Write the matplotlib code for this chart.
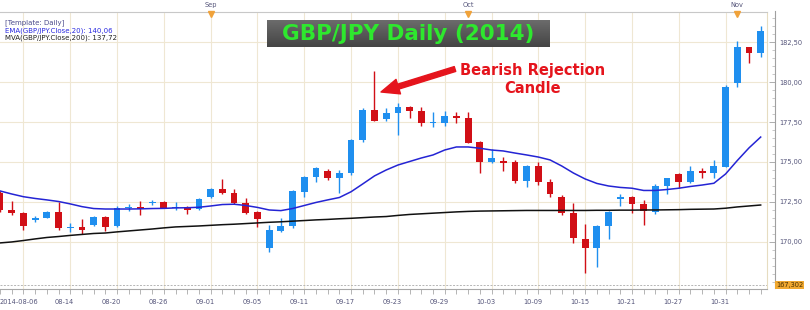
import matplotlib
matplotlib.use("Agg")
import matplotlib.pyplot as plt
import numpy as np
import pandas as pd
from matplotlib.transforms import blended_transform_factory

# trading days shown on the chart
dates = pd.bdate_range("2014-08-06", "2014-11-05")

opens = [173.06, 172.00, 171.83, 171.38, 171.52, 171.89, 170.87, 170.94, 171.06, 171.54,
         171.00, 172.14, 172.17, 172.45, 172.52, 172.15, 172.17, 172.06, 172.83, 173.29,
         173.04, 172.46, 171.88, 169.61, 170.71, 171.00, 173.14, 174.08, 174.44, 173.98,
         174.29, 176.38, 178.25, 177.69, 178.08, 178.46, 178.21, 177.45, 177.42, 177.88,
         177.73, 176.27, 175.02, 175.08, 174.98, 173.83, 174.75, 173.77, 172.83, 171.79,
         170.17, 169.64, 171.00, 172.67, 172.83, 172.36, 171.85, 173.52, 174.25, 173.77,
         174.44, 174.33, 174.71, 179.96, 182.17, 181.83]
highs = [173.20, 172.58, 171.90, 171.60, 171.94, 172.52, 171.19, 171.44, 171.60, 171.60,
         172.25, 172.36, 172.56, 172.62, 172.56, 172.49, 172.25, 172.75, 173.39, 173.92,
         173.31, 172.73, 171.94, 171.06, 171.48, 173.25, 174.15, 174.70, 174.56, 174.50,
         176.45, 178.38, 180.71, 178.35, 178.71, 178.50, 178.46, 178.14, 178.21, 178.10,
         178.10, 176.30, 175.79, 175.33, 175.13, 174.80, 175.02, 173.94, 172.94, 172.42,
         171.13, 171.05, 171.95, 172.98, 172.90, 172.63, 173.63, 174.00, 174.30, 174.77,
         174.60, 175.13, 179.80, 182.56, 182.20, 183.50]
lows = [171.90, 171.69, 170.75, 171.27, 171.50, 170.75, 170.64, 170.50, 171.00, 170.71,
        170.96, 171.96, 171.67, 172.30, 172.10, 172.00, 171.75, 172.00, 172.73, 173.00,
        172.40, 171.75, 170.92, 169.39, 170.65, 170.90, 172.83, 173.77, 173.90, 173.04,
        174.20, 176.27, 177.55, 177.58, 176.69, 177.73, 177.25, 177.21, 177.25, 177.42,
        176.18, 174.29, 174.92, 174.46, 173.71, 173.46, 173.56, 172.79, 171.69, 169.92,
        168.04, 168.46, 170.17, 172.25, 171.79, 171.06, 171.75, 173.00, 173.39, 173.67,
        173.98, 173.98, 174.70, 179.71, 181.21, 181.58]
closes = [172.00, 171.80, 171.00, 171.52, 171.89, 170.86, 170.92, 170.75, 171.54, 170.96,
          172.14, 172.19, 172.04, 172.50, 172.14, 172.20, 172.00, 172.69, 173.29, 173.04,
          172.46, 171.83, 171.46, 170.75, 171.00, 173.19, 174.08, 174.64, 173.98, 174.33,
          176.38, 178.25, 177.58, 178.08, 178.46, 178.19, 177.42, 177.50, 177.88, 177.73,
          176.21, 175.02, 175.23, 174.96, 173.83, 174.75, 173.77, 173.00, 171.79, 170.23,
          169.64, 171.00, 171.89, 172.83, 172.36, 171.94, 173.52, 173.98, 173.77, 174.46,
          174.33, 174.75, 179.71, 182.17, 181.83, 183.19]
ema20 = [173.19, 173.00, 172.83, 172.72, 172.63, 172.53, 172.38, 172.21, 172.09, 172.06,
         172.06, 172.06, 172.07, 172.09, 172.10, 172.13, 172.14, 172.17, 172.25, 172.34,
         172.36, 172.28, 172.16, 172.00, 171.96, 172.09, 172.28, 172.47, 172.63, 172.78,
         173.14, 173.63, 174.13, 174.50, 174.81, 175.03, 175.25, 175.44, 175.75, 175.94,
         175.94, 175.86, 175.75, 175.69, 175.56, 175.44, 175.31, 175.13, 174.75, 174.31,
         173.94, 173.66, 173.50, 173.41, 173.36, 173.22, 173.22, 173.28, 173.36, 173.47,
         173.56, 173.67, 174.25, 175.09, 175.88, 176.56]
sma200 = [169.94, 170.00, 170.09, 170.19, 170.28, 170.34, 170.41, 170.47, 170.53, 170.56,
          170.63, 170.69, 170.75, 170.81, 170.88, 170.94, 170.97, 171.00, 171.04, 171.08,
          171.11, 171.15, 171.19, 171.23, 171.26, 171.30, 171.34, 171.38, 171.41, 171.45,
          171.48, 171.52, 171.56, 171.59, 171.66, 171.72, 171.76, 171.80, 171.84, 171.88,
          171.91, 171.93, 171.94, 171.95, 171.96, 171.97, 171.97, 171.97, 171.97, 171.97,
          171.97, 171.98, 171.98, 171.99, 171.99, 172.00, 172.00, 172.01, 172.02, 172.04,
          172.05, 172.06, 172.11, 172.19, 172.25, 172.31]

x_labels = ["2014-08-06", "08-14", "08-20", "08-26", "09-01", "09-05", "09-11", "09-17",
            "09-23", "09-29", "10-03", "10-09", "10-15", "10-21", "10-27", "10-31"]
grid_days = ["2014-08-08", "2014-08-14", "2014-08-20", "2014-08-26", "2014-09-01",
             "2014-09-05", "2014-09-11", "2014-09-17", "2014-09-23", "2014-09-29",
             "2014-10-03", "2014-10-09", "2014-10-15", "2014-10-21", "2014-10-27",
             "2014-10-31"]
month_names = ["Sep", "Oct", "Nov"]
month_days = ["2014-09-01", "2014-10-01", "2014-11-03"]
price_ticks = [170.0, 172.5, 175.0, 177.5, 180.0, 182.5]
cursor_price = 167.302

BLUE = "#1f8fef"
RED = "#d10f16"
GRID = "#efe7d3"
AXIS_TXT = "#55557a"

W, H = 810, 310
fig = plt.figure(figsize=(W / 100, H / 100), dpi=100)
ax = fig.add_axes([0, 1 - 288.5 / H, 767 / W, (288.5 - 11.5) / H])

x = np.arange(len(dates))
o = np.array(opens)
hi = np.array(highs)
lo = np.array(lows)
c = np.array(closes)
col = np.where(c >= o, BLUE, RED)

ax.vlines(x, lo, hi, colors=col, lw=1.0, zorder=3)
ax.bar(x, np.maximum(np.abs(c - o), 0.05), bottom=np.minimum(o, c), width=0.58,
       color=col, linewidth=0, zorder=4)
ax.plot(x, ema20, color="#2424d4", lw=1.1, zorder=5)
ax.plot(x, sma200, color="#111111", lw=1.1, zorder=5)
ax.axhline(cursor_price, color="#b5b5b5", lw=0.7, ls=(0, (2, 1.5)), zorder=2)

ax.set_xlim(0.211, 65.54)
ax.set_ylim(167.09, 184.41)

day_idx = {d.strftime("%Y-%m-%d"): i for i, d in enumerate(dates)}
grid_x = [day_idx[d] for d in grid_days]
ax.set_xticks(grid_x)
ax.set_xticks(x, minor=True)
ax.set_xticklabels([])
ax.tick_params(axis="x", which="both", direction="out", length=3.5, width=0.6,
               color="#a8a8a8")

ax.yaxis.tick_right()
ax.set_yticks(price_ticks)
ax.set_yticks(np.arange(167.5, 184.1, 0.5), minor=True)
ax.set_yticklabels([f"{v:.2f}".replace(".", ",") for v in price_ticks])
ax.tick_params(axis="y", which="major", direction="in", length=4, width=0.6,
               color="#a0a0a0", labelsize=4.8, labelcolor=AXIS_TXT, pad=3)
ax.tick_params(axis="y", which="minor", direction="in", length=2, width=0.5,
               color="#b0b0b0")
ax.grid(which="major", color=GRID, lw=0.8, zorder=0)
ax.set_axisbelow(True)

ax.spines["left"].set_visible(False)
ax.spines["top"].set_color("#c8c8c8")
ax.spines["bottom"].set_color("#a8a8a8")
ax.spines["right"].set_position(("outward", 6))
ax.spines["right"].set_color("#a0a0a0")
ax.plot([1, 1], [0, 1], transform=ax.transAxes, color="#e6dcc0", lw=0.8, clip_on=False)

# date labels under the axis
lab_tr = blended_transform_factory(ax.transData, fig.transFigure)
for i, (gx, lab) in enumerate(zip(grid_x, x_labels)):
    if i == 0:
        ax.text(0.0, 8 / H, lab, transform=blended_transform_factory(fig.transFigure, fig.transFigure),
                ha="left", va="center", fontsize=4.8, color=AXIS_TXT)
    else:
        ax.text(gx - 0.48, 8 / H, lab, transform=lab_tr, ha="center", va="center",
                fontsize=4.8, color=AXIS_TXT)

# month markers on top
top_tr = blended_transform_factory(ax.transData, ax.transAxes)
for name, d in zip(month_names, month_days):
    mx = day_idx[d]
    ax.plot([mx], [0.991], marker="v", ms=4.5, color="#f0a23a", transform=top_tr,
            clip_on=False, zorder=6)
    ax.text(mx, (H - 5) / H, name, transform=lab_tr, ha="center", va="center",
            fontsize=4.8, color=AXIS_TXT)

# cursor price tag
ax.text(776 / W, cursor_price, "167,302", transform=blended_transform_factory(fig.transFigure, ax.transData),
        ha="left", va="center", fontsize=4.8, color="#4a3000",
        bbox=dict(boxstyle="square,pad=0.15", fc="#f0a830", ec="none"))

# indicator legend
fig.text(5 / W, 1 - 22.7 / H, "[Template: Daily]", fontsize=5, color="#4b4b8c", va="center")
fig.text(5 / W, 1 - 30.3 / H, "EMA(GBP/JPY.Close,20): 140,06", fontsize=5, color="#2a2ae0", va="center")
fig.text(5 / W, 1 - 38.0 / H, "MVA(GBP/JPY.Close,200): 137,72", fontsize=5, color="#222222", va="center")

# title box
tax = fig.add_axes([267 / W, 1 - 47 / H, 283 / W, 27 / H])
tax.imshow(np.linspace(0.42, 0.27, 20).reshape(-1, 1), cmap="gray", vmin=0, vmax=1,
           aspect="auto", extent=(0, 1, 0, 1))
tax.set_xlim(0, 1)
tax.set_ylim(0, 1)
tax.axis("off")
tax.text(0.5, 0.48, "GBP/JPY Daily (2014)", ha="center", va="center", fontsize=15.5,
         fontweight="bold", color="#2ee82e")

# annotation
fig.text(533 / W, 1 - 79.5 / H, "Bearish Rejection\nCandle", ha="center", va="center",
         fontsize=10.5, fontweight="bold", color="#e5141c", linespacing=1.25)
ax.annotate("", xy=(381, H - 92), xycoords="figure pixels",
            xytext=(455, H - 69), textcoords="figure pixels",
            arrowprops=dict(arrowstyle="simple,head_length=0.93,head_width=0.78,tail_width=0.26",
                            color="#e5141c", mutation_scale=14, shrinkA=0, shrinkB=0))

fig.savefig("out.png", dpi=100)
